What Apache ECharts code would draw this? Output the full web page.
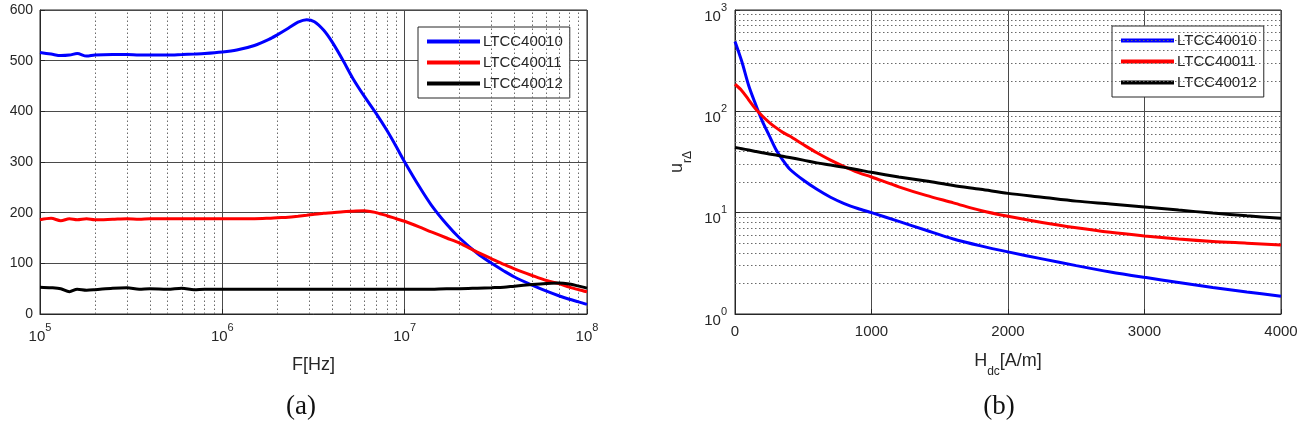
<!DOCTYPE html>
<html>
<head>
<meta charset="utf-8">
<script src="https://cdn.jsdelivr.net/npm/echarts@6/dist/echarts.min.js"></script>
<style>
  html, body { margin: 0; background: #fff; }
  #main { width: 1302px; height: 422px; }
</style>
</head>
<body>
<div id="main"></div>
<script>
// ---- data (a): permeability vs frequency ----
const freqA = [1e5, 1.15e5, 1.3e5, 1.45e5, 1.6e5, 1.8e5, 2e5, 2.5e5, 3e5, 3.5e5, 4e5, 5e5, 6e5, 7e5, 8e5,
  1e6, 1.2e6, 1.5e6, 1.8e6, 2e6, 2.3e6, 2.6e6, 2.9e6, 3.2e6, 3.6e6, 4e6, 4.6e6, 5.2e6, 6e6, 7e6, 8e6, 9e6,
  1e7, 1.2e7, 1.4e7, 1.7e7, 2e7, 2.5e7, 3e7, 3.5e7, 4e7, 5e7, 6e7, 7e7, 8e7, 9e7, 1e8]
const ltcc10A = [516, 513, 510, 511, 514, 509, 511, 512, 512, 511, 511, 511, 512, 513, 514,
  517, 521, 530, 542, 551, 564, 576, 581, 577, 560, 537, 500, 465, 430, 395, 362, 330,
  300, 252, 215, 177, 150, 120, 100, 85, 73, 57, 45, 36, 29, 24, 19]
const ltcc11A = [186, 189, 184, 188, 186, 188, 186, 187, 188, 187, 188, 188, 188, 188, 188,
  188, 188, 188, 189, 190, 191, 193, 195, 197, 199, 200, 202, 203, 204, 200, 194, 188,
  183, 172, 162, 150, 140, 122, 109, 98, 89, 76, 66, 60, 53, 48, 44]
const ltcc12A = [53, 52, 50, 44, 49, 47, 48, 51, 52, 49, 50, 49, 51, 48, 49,
  49, 49, 49, 49, 49, 49, 49, 49, 49, 49, 49, 49, 49, 49, 49, 49, 49,
  49, 49, 49, 50, 50, 51, 52, 53, 55, 58, 60, 61, 59, 55, 51]

// ---- data (b): incremental permeability vs DC field ----
const hdcB = [0, 50, 100, 150, 200, 250, 300, 350, 400, 500, 600, 700, 800, 900, 1000,
  1200, 1400, 1600, 1800, 2000, 2250, 2500, 2750, 3000, 3250, 3500, 3750, 4000]
const ltcc10B = [490, 310, 180, 118, 80, 58, 42, 33, 27, 21, 17, 14.2, 12.3, 11, 10,
  8.2, 6.7, 5.5, 4.7, 4.1, 3.5, 3.0, 2.6, 2.3, 2.05, 1.83, 1.65, 1.5]
const ltcc11B = [185, 160, 130, 106, 90, 78, 69, 62, 57, 47, 39, 33, 28.5, 25, 22.5,
  18, 14.8, 12.5, 10.5, 9.2, 8.0, 7.1, 6.4, 5.9, 5.5, 5.2, 5.0, 4.8]
const ltcc12B = [44, 42.8, 41.5, 40.2, 39, 38, 37, 36, 35, 33, 31, 29.5, 28, 26.5, 25,
  22.5, 20.5, 18.5, 17, 15.5, 14.2, 13, 12.2, 11.4, 10.6, 9.9, 9.3, 8.8]

const names = ['LTCC40010', 'LTCC40011', 'LTCC40012']
const colors = ['#0000ff', '#ff0000', '#000000']

// minor grid positions (2..9 of each decade)
const decadesA = [1e5, 1e6, 1e7]
const decadesB = [1, 10, 100]
const minorA = []
decadesA.forEach(d => { for (let k = 2; k <= 9; k++) minorA.push(d * k) })
const minorB = []
decadesB.forEach(d => { for (let k = 2; k <= 9; k++) minorB.push(d * k) })

const txt = '#262626'
const font = 'Liberation Sans, Arial, sans-serif'
// "10" with raised exponent
const supRich = {
  b: { fontSize: 15, color: txt, fontFamily: font, lineHeight: 22, verticalAlign: 'bottom' },
  s: { fontSize: 11, color: txt, fontFamily: font, lineHeight: 11, verticalAlign: 'top' }
}
// name with lowered subscript
const subRich = {
  n: { fontSize: 18, color: txt, fontFamily: font, lineHeight: 18, verticalAlign: 'top' },
  d: { fontSize: 12, color: txt, fontFamily: font, lineHeight: 40, verticalAlign: 'middle' }
}
function pow10(v) {
  return '{b|10}{s|' + Math.round(Math.log10(v)) + '}'
}

function pairs(xs, ys) {
  return xs.map((x, i) => [x, ys[i]])
}

function lineSeries(name, color, data, idx) {
  return {
    name,
    type: 'line',
    xAxisIndex: idx,
    yAxisIndex: idx,
    data,
    showSymbol: false,
    symbol: 'none',
    smooth: 0.3,
    z: 5,
    lineStyle: { color, width: 3 },
    itemStyle: { color }
  }
}

function minorGrid(idx, key, values) {
  return {
    type: 'line',
    xAxisIndex: idx,
    yAxisIndex: idx,
    data: [],
    z: 1,
    silent: true,
    markLine: {
      silent: true,
      symbol: 'none',
      animation: false,
      label: { show: false },
      lineStyle: { type: [1.5, 2.5], color: '#6a6a6a', width: 1 },
      data: values.map(v => ({ [key]: v }))
    }
  }
}

const axisLine = { show: true, lineStyle: { color: txt, width: 1 } }
const majorLine = { show: true, lineStyle: { color: '#4a4a4a', width: 1 } }
const tick = { show: true, inside: true, length: 5, lineStyle: { color: txt } }

const legendBase = {
  orient: 'vertical',
  data: names,
  icon: 'rect',
  itemWidth: 53,
  itemHeight: 4,
  itemGap: 6,
  padding: [7, 7, 7, 9],
  backgroundColor: '#fff',
  borderColor: txt,
  borderWidth: 1,
  borderRadius: 0,
  selectedMode: false,
  textStyle: { fontSize: 15, color: txt, fontFamily: font, padding: [0, 0, 0, -2] }
}

const chart = echarts.init(document.getElementById('main'))

const option = {
  animation: false,
  backgroundColor: '#fff',
  textStyle: { fontFamily: font },
  grid: [
    { left: 40, top: 10, width: 547, height: 304, show: true, borderColor: txt, borderWidth: 1 },
    { left: 735, top: 10, width: 546, height: 304, show: true, borderColor: txt, borderWidth: 1 }
  ],
  legend: [
    Object.assign({ left: 418, top: 27 }, legendBase),
    Object.assign({ left: 1112, top: 26 }, legendBase)
  ],
  xAxis: [{
    gridIndex: 0,
    type: 'log',
    logBase: 10,
    min: 1e5,
    max: 1e8,
    splitNumber: 3,
    axisLine,
    axisTick: tick,
    splitLine: majorLine,
    axisLabel: { formatter: pow10, margin: 8, rich: supRich },
    name: 'F[Hz]',
    nameLocation: 'middle',
    nameGap: 42,
    nameTextStyle: { fontSize: 18, color: txt, fontFamily: font }
  }, {
    gridIndex: 1,
    type: 'value',
    min: 0,
    max: 4000,
    interval: 1000,
    axisLine,
    axisTick: tick,
    splitLine: majorLine,
    axisLabel: { fontSize: 15, color: txt, margin: 10, fontFamily: font, formatter: v => String(v) },
    name: '{n|H}{d|dc}{n|[A/m]}',
    nameLocation: 'middle',
    nameGap: 38,
    nameTextStyle: { rich: subRich }
  }],
  yAxis: [{
    gridIndex: 0,
    type: 'value',
    min: 0,
    max: 600,
    interval: 100,
    axisLine,
    axisTick: tick,
    splitLine: majorLine,
    axisLabel: { fontSize: 14, color: txt, margin: 7, fontFamily: font }
  }, {
    gridIndex: 1,
    type: 'log',
    logBase: 10,
    min: 1,
    max: 1000,
    splitNumber: 3,
    axisLine,
    axisTick: tick,
    splitLine: majorLine,
    axisLabel: { formatter: pow10, margin: 8, padding: [6, 0, 0, 0], rich: supRich },
    name: '{n|u}{d|r\u0394}',
    nameLocation: 'middle',
    nameRotate: 90,
    nameGap: 27,
    nameTextStyle: { rich: subRich }
  }],
  graphic: [
    { type: 'text', x: 301, y: 407, style: { text: '(a)', font: '27px "Liberation Serif", serif', fill: '#111', textAlign: 'center', textVerticalAlign: 'middle' } },
    { type: 'text', x: 999, y: 407, style: { text: '(b)', font: '27px "Liberation Serif", serif', fill: '#111', textAlign: 'center', textVerticalAlign: 'middle' } }
  ],
  series: [
    minorGrid(0, 'xAxis', minorA),
    minorGrid(1, 'yAxis', minorB),
    lineSeries(names[0], colors[0], pairs(freqA, ltcc10A), 0),
    lineSeries(names[1], colors[1], pairs(freqA, ltcc11A), 0),
    lineSeries(names[2], colors[2], pairs(freqA, ltcc12A), 0),
    lineSeries(names[0], colors[0], pairs(hdcB, ltcc10B), 1),
    lineSeries(names[1], colors[1], pairs(hdcB, ltcc11B), 1),
    lineSeries(names[2], colors[2], pairs(hdcB, ltcc12B), 1)
  ]
}

chart.setOption(option)
</script>
</body>
</html>
